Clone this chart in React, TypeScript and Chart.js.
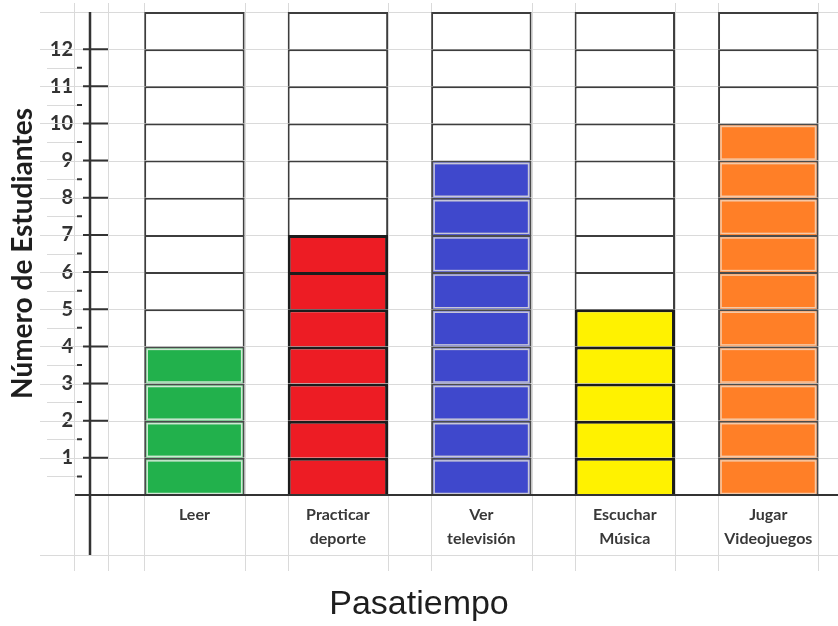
import React, { useEffect, useRef } from 'react';
import { Chart, registerables } from 'chart.js';

Chart.register(...registerables);

// ---- data ----
const categories: string[][] = [
  ['Leer'],
  ['Practicar', 'deporte'],
  ['Ver', 'televisión'],
  ['Escuchar', 'Música'],
  ['Jugar', 'Videojuegos'],
];
const students: number[] = [4, 7, 9, 5, 10];
const yTickLabels: string[] = ['1', '2', '3', '4', '5', '6', '7', '8', '9', '10', '11', '12'];
const gridMax = 13; // number of unit cells drawn per column
const yTitle = 'Número de Estudiantes';
const xTitle = 'Pasatiempo';

// ---- styles ----
const barColors = ['#22b14c', '#ed1c24', '#3f48cc', '#fff200', '#ff7f27'];
const outlineColors = ['#4a4a4a', '#1c1c1c', '#4a4a4a', '#1c1c1c', '#4a4a4a'];
const outlineWidths = [2, 3, 2, 3, 2];
const innerBorderColors = ['#cfe8d4', null, '#c8c8d8', null, '#f5c9a8'];
const emptyCellBorder = '#3d3d3d';
const lightGrid = '#dadada';
const darkLine = '#333333';

const levels = Array.from({ length: gridMax }, (_, k) => k + 1);

export default function App() {
  const ref = useRef<HTMLCanvasElement | null>(null);

  useEffect(() => {
    if (!ref.current) return;

    const sheetPlugin = {
      id: 'sheet',
      beforeDatasetsDraw(chart: any) {
        const { ctx, chartArea: a, scales } = chart;
        const ys = scales.y;
        ctx.save();
        ctx.strokeStyle = lightGrid;
        ctx.lineWidth = 1;
        ctx.beginPath();
        for (let v = 1; v <= gridMax; v++) {
          const py = Math.round(ys.getPixelForValue(v)) + 0.5;
          ctx.moveTo(a.left - 50, py);
          ctx.lineTo(chart.width, py);
        }
        for (let v = 0.5; v < gridMax - 1; v += 1) {
          const py = Math.round(ys.getPixelForValue(v)) + 0.5;
          ctx.moveTo(a.left - 43, py);
          ctx.lineTo(a.left - 13, py);
        }
        const by = Math.round(a.bottom + 60) + 0.5;
        ctx.moveTo(a.left - 50, by);
        ctx.lineTo(chart.width, by);
        const xs: number[] = [a.left - 16, a.left + 18];
        const meta = chart.getDatasetMeta(0);
        meta.data.forEach((el: any) => {
          const p = el.getProps(['x', 'width'], true);
          xs.push(p.x - p.width / 2, p.x + p.width / 2);
        });
        xs.forEach((x) => {
          const px = Math.round(x) + 0.5;
          ctx.moveTo(px, 3);
          ctx.lineTo(px, a.bottom + 76);
        });
        ctx.stroke();
        ctx.restore();
      },
      afterDatasetsDraw(chart: any) {
        const { ctx, chartArea: a, scales } = chart;
        const ys = scales.y;
        ctx.save();
        chart.data.datasets.forEach((_ds: any, di: number) => {
          const level = levels[di];
          const meta = chart.getDatasetMeta(di);
          meta.data.forEach((el: any, i: number) => {
            if (level > students[i] || !innerBorderColors[i]) return;
            const p = el.getProps(['x', 'y', 'base', 'width'], true);
            ctx.strokeStyle = innerBorderColors[i];
            ctx.lineWidth = 1.5;
            ctx.strokeRect(p.x - p.width / 2 + 3, p.y + 3, p.width - 6, p.base - p.y - 4.5);
          });
        });
        ctx.strokeStyle = darkLine;
        ctx.lineWidth = 2.5;
        ctx.beginPath();
        ctx.moveTo(a.left, a.top);
        ctx.lineTo(a.left, a.bottom + 60);
        ctx.stroke();
        ctx.lineWidth = 2;
        ctx.beginPath();
        ctx.moveTo(a.left - 15, a.bottom);
        ctx.lineTo(chart.width, a.bottom);
        ctx.stroke();
        ctx.beginPath();
        for (let v = 1; v < gridMax; v++) {
          const py = ys.getPixelForValue(v);
          ctx.moveTo(a.left - 7, py);
          ctx.lineTo(a.left + 18, py);
        }
        ctx.stroke();
        ctx.beginPath();
        for (let v = 0.5; v < gridMax - 1; v += 1) {
          const py = ys.getPixelForValue(v);
          ctx.moveTo(a.left - 13, py);
          ctx.lineTo(a.left - 8, py);
        }
        ctx.stroke();
        ctx.restore();
      },
    };

    const datasets = levels.map((level) => ({
      label: 'Nivel ' + level,
      stack: 'unidades',
      data: students.map((_v, i) => ({ x: i, y: 1 })),
      backgroundColor: students.map((v, i) => (level <= v ? barColors[i] : '#ffffff')),
      borderColor: students.map((v, i) => (level <= v ? outlineColors[i] : emptyCellBorder)),
      borderWidth: students.map((v, i) => (level <= v ? outlineWidths[i] : 2)),
      borderSkipped: 'start' as const,
      barPercentage: 0.7,
      categoryPercentage: 1,
    }));

    const chart = new Chart(ref.current, {
      type: 'bar',
      data: { datasets },
      plugins: [sheetPlugin],
      options: {
        animation: false,
        responsive: false,
        layout: { padding: { top: 12, left: 0, right: 0, bottom: 0 } },
        plugins: {
          legend: { display: false },
          tooltip: { enabled: false },
          title: {
            display: true,
            position: 'bottom',
            text: xTitle,
            color: '#1e1e1e',
            font: { family: '"Liberation Sans", Arial, sans-serif', size: 34, weight: 'normal' },
            padding: { top: 10, bottom: 1 },
          },
        },
        scales: {
          x: {
            type: 'linear',
            offset: false,
            min: -0.728,
            max: 4.486,
            grid: { display: false, drawTicks: false },
            border: { display: false },
            afterBuildTicks: (scale: any) => {
              scale.ticks = categories.map((_c, i) => ({ value: i }));
            },
            afterFit: (scale: any) => {
              scale.height = 626 - 495 - (34 * 1.2 + 11);
              scale.paddingLeft = 0;
              scale.paddingRight = 0;
            },
            ticks: {
              autoSkip: false,
              maxRotation: 0,
              minRotation: 0,
              padding: 7,
              color: '#383838',
              font: { family: 'Lato, "Liberation Sans", sans-serif', size: 16, weight: 'bold', lineHeight: 1.55 },
              callback: (value: any) => categories[value as number] ?? '',
            },
          },
          y: {
            type: 'linear',
            stacked: true,
            min: 0,
            max: gridMax,
            grid: { display: false, drawTicks: false },
            border: { display: false },
            afterFit: (scale: any) => {
              scale.width = 90;
              scale.paddingTop = 0;
              scale.paddingBottom = 0;
            },
            ticks: {
              stepSize: 1,
              padding: 17,
              color: '#333333',
              font: { family: 'Lato, "Liberation Sans", sans-serif', size: 20, weight: 'bold' },
              callback: (value: any) => yTickLabels[(value as number) - 1] ?? '',
            },
            title: {
              display: true,
              text: yTitle,
              color: '#1e1e1e',
              font: { family: 'Lato, "Liberation Sans", sans-serif', size: 28, weight: 'bold' },
              padding: { top: 6, bottom: 0 },
            },
          },
        },
      },
    } as any);

    return () => chart.destroy();
  }, []);

  return (
    <div style={{ position: 'absolute', left: 0, top: 0, width: 838, height: 626, background: '#ffffff' }}>
      <canvas ref={ref} width={838} height={626} />
    </div>
  );
}
